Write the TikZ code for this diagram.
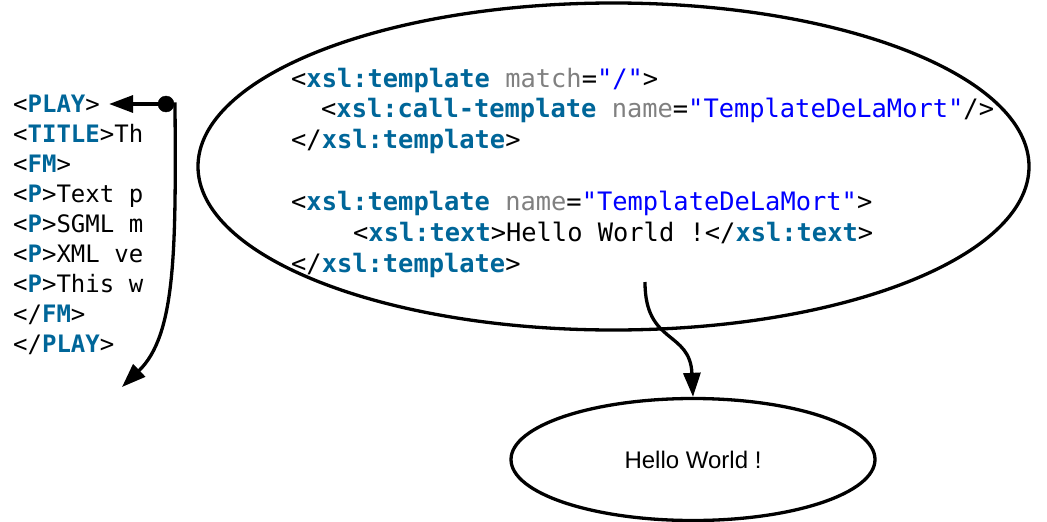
\documentclass[tikz,border=0pt]{standalone}
\usepackage{fontspec}
\setmonofont{DejaVu Sans Mono}
\setsansfont{Liberation Sans}
\usetikzlibrary{arrows.meta,shapes.geometric}
\definecolor{tagblue}{RGB}{0,102,153}
\definecolor{attrgray}{RGB}{128,128,128}
\definecolor{valblue}{RGB}{0,0,255}
\def\tg#1{\textcolor{tagblue}{\textbf{#1}}}
\def\at#1{\textcolor{attrgray}{#1}}
\def\vl#1{\textcolor{valblue}{#1}}

\begin{document}
\begin{tikzpicture}[x=1pt, y=-1pt,
	code/.style={anchor=base west, inner sep=0pt, font=\ttfamily\fontsize{25.4}{30}\selectfont},
	src/.style={anchor=base west, inner sep=0pt, font=\ttfamily\fontsize{24}{30}\selectfont},
	bubble/.style={draw, ellipse, line width=3.3pt, inner sep=0pt},
	link/.style={line width=3.3pt, -{Triangle[length=24pt,width=17pt]}}]
		%%%%% START %%%%%
		\useasboundingbox (0, 0) rectangle (1047, 522);
		
		% source document, cut at the right
		\begin{scope}
			\clip (0, 80) rectangle (143.5, 360);
			\node[src] (play) at (13, 112) {<\tg{PLAY}>};
			\node[src] at (13, 142) {<\tg{TITLE}>The Tragedy};
			\node[src] at (13, 172) {<\tg{FM}>};
			\node[src] at (13, 202) {<\tg{P}>Text placed};
			\node[src] at (13, 232) {<\tg{P}>SGML markup};
			\node[src] at (13, 262) {<\tg{P}>XML version};
			\node[src] at (13, 292) {<\tg{P}>This work};
			\node[src] at (13, 322) {</\tg{FM}>};
			\node[src] (endplay) at (13, 352) {</\tg{PLAY}>};
		\end{scope}
		
		% stylesheet
		\node[bubble, minimum width=831, minimum height=327] (xslt) at (613.5, 166.5) {};
		\node[code] (l1) at (291, 87) {<\tg{xsl:template} \at{match}=\vl{"/"}>};
		\node[code] (l2) at (321, 117) {<\tg{xsl:call-template} \at{name}=\vl{"TemplateDeLaMort"}/>};
		\node[code] (l3) at (291, 148) {</\tg{xsl:template}>};
		\node[code] (l4) at (291, 210) {<\tg{xsl:template} \at{name}=\vl{"TemplateDeLaMort"}>};
		\node[code] (l5) at (353, 241) {<\tg{xsl:text}>Hello World !</\tg{xsl:text}>};
		\node[code] (l6) at (291, 272) {</\tg{xsl:template}>};
		
		% output
		\node[bubble, minimum width=364, minimum height=122, font=\sffamily\fontsize{24}{28}\selectfont] (result) at (693, 459.5) {Hello World !};
		
		% cursor on the current node
		\coordinate (cursor) at (166, 104);
		\coordinate (next) at (122, 387);
		\draw[fill=black] (cursor) circle (8);
		\draw[link] (cursor) -- ([xshift=9]play.east |- cursor);
		\draw[link] (cursor) -- (175, 104) .. controls (176, 250) and (176, 335) .. (next);
		
		\coordinate (apply) at (645, 282);
		\draw[link] (apply) .. controls (645, 345) and (690, 330) .. (result.north);
		%%%%% END %%%%%
	\end{tikzpicture}
\end{document}
